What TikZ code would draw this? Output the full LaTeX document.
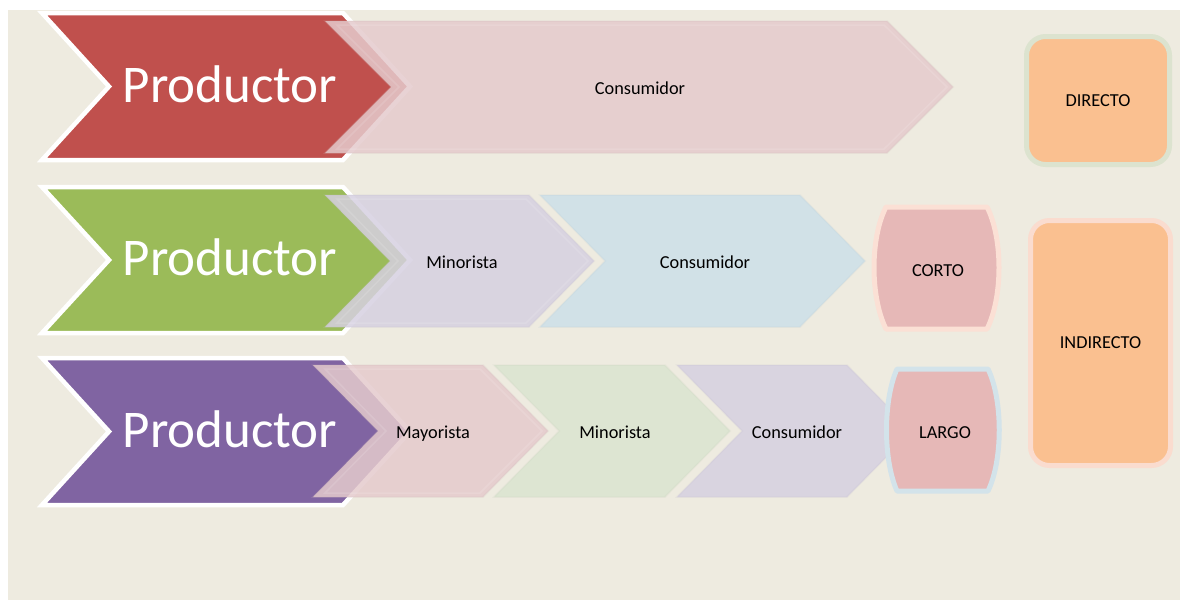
\documentclass[tikz,border=0pt]{standalone}
\usepackage{fontspec}
\setmainfont{Carlito}
\definecolor{bg}{HTML}{EEEBE0}
\definecolor{cred}{HTML}{C0504D}
\definecolor{cgreen}{HTML}{9BBB59}
\definecolor{cpurple}{HTML}{8064A2}
\definecolor{lpink}{HTML}{E5CBCD}
\definecolor{llav}{HTML}{D6D0E1}
\definecolor{lblue}{HTML}{CDE0E9}
\definecolor{lgreen}{HTML}{DBE5D0}
\definecolor{corange}{HTML}{FAC090}
\definecolor{crose}{HTML}{E6B8B7}
\definecolor{bpeach}{HTML}{FBE0D5}
\definecolor{bblue}{HTML}{D3E3EA}
\definecolor{bgreen}{HTML}{DCE3CF}
\definecolor{bind}{HTML}{FADCCF}
\newcommand{\chev}[6][]{\path[#1] (#2,#4) -- (#3,#4) -- ({#3+#6},{(#4+#5)/2}) -- (#3,#5) -- (#2,#5) -- ({#2+#6},{(#4+#5)/2}) -- cycle;}
\newcommand{\chevin}[5]{\path[inset] ({#1+12},{#3+4}) -- ({#2-3},{#3+4}) -- ({#2+#5-6},{(#3+#4)/2}) -- ({#2-3},{#4-4}) -- ({#1+12},{#4-4}) -- ({#1+12+#5-4},{(#3+#4)/2}) -- cycle;}
\tikzset{
  bigchev/.style={draw=white, line width=4.5pt, line join=miter},
  lightchev/.style={fill opacity=0.85, draw opacity=0.18, line width=1.5pt, line join=miter},
  inset/.style={draw=white, draw opacity=0.12, line width=1.5pt, line join=miter},
  bigtext/.style={text=white, font=\fontsize{53}{60}\selectfont, anchor=base, inner sep=0pt},
  smalltext/.style={text=black, font=\fontsize{18.3}{22}\selectfont, anchor=base, inner sep=0pt},
  roundbox/.style={rounded corners=19pt, line width=5pt, fill=corange, font=\fontsize{18.3}{22}\selectfont, inner sep=0pt},
  barrel/.style={fill=crose, line width=5pt, line join=round}
}
\begin{document}
\begin{tikzpicture}[x=1pt,y=-1pt]
\useasboundingbox (0,0) rectangle (1180,600);
\fill[bg] (8,10) rectangle (1180,600);

% Row 1
\chev[bigchev, fill=cred]{42}{343}{13}{160}{67}
\chev[lightchev, fill=lpink, draw=lpink!90!black]{325}{887}{21}{153}{66}
\chevin{325}{887}{21}{153}{66}
\node[bigtext] (p1) at (230,102.5) {Productor};
\node[smalltext] (c1) at (640,94) {Consumidor};

% Row 2
\chev[bigchev, fill=cgreen]{42}{343}{187}{333}{67}
\chev[lightchev, fill=llav, draw=llav!90!black]{325}{529}{195}{327}{65}
\chevin{325}{529}{195}{327}{65}
\chev[lightchev, fill=lblue, draw=lblue!90!black]{540}{800}{195}{327}{65}
\node[bigtext] (p2) at (230,275.5) {Productor};
\node[smalltext] (m2) at (462,268) {Minorista};
\node[smalltext] (c2) at (705,268) {Consumidor};

% Row 3
\chev[bigchev, fill=cpurple]{42}{343}{358}{505}{67}
\chev[lightchev, fill=lpink, draw=lpink!90!black]{313}{483}{365}{497}{65}
\chevin{313}{483}{365}{497}{65}
\chev[lightchev, fill=lgreen, draw=lgreen!90!black]{494}{665}{365}{497}{65}
\chev[lightchev, fill=llav, draw=llav!90!black]{677}{847}{365}{497}{65}
\node[bigtext] (p3) at (230,447.5) {Productor};
\node[smalltext] (y3) at (433,438) {Mayorista};
\node[smalltext] (m3) at (615,438) {Minorista};
\node[smalltext] (c3) at (797,438) {Consumidor};

% Barrels
\path[barrel, draw=bpeach] (886,207) -- (987,207) .. controls (1003,238) and (1003,297) .. (987,329) -- (886,329) .. controls (870,297) and (870,238) .. (886,207) -- cycle;
\node[smalltext] (corto) at (938,276) {CORTO};
\path[barrel, draw=bblue] (897,369) -- (988,369) .. controls (1003,400) and (1003,460) .. (988,491) -- (897,491) .. controls (883,460) and (883,400) .. (897,369) -- cycle;
\node[smalltext] (largo) at (945,438) {LARGO};

% Right boxes
\node[roundbox, draw=bgreen, minimum width=143pt, minimum height=128pt] (directo) at (1098,100.5) {DIRECTO};
\node[roundbox, draw=bind, minimum width=140pt, minimum height=245pt] (indirecto) at (1100.5,343) {INDIRECTO};
\end{tikzpicture}
\end{document}
